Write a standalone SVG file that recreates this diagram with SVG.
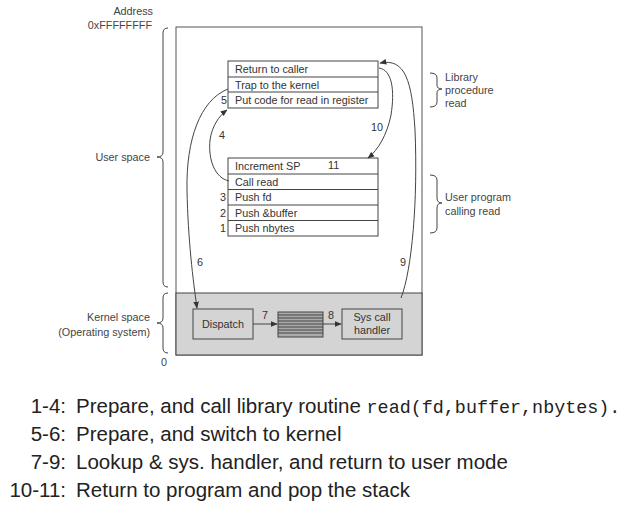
<svg xmlns="http://www.w3.org/2000/svg" width="625" height="526" viewBox="0 0 625 526">
<defs>
<marker id="ah" viewBox="0 0 10 10" refX="9" refY="5" markerWidth="7" markerHeight="7" orient="auto" markerUnits="userSpaceOnUse">
<path d="M0,1 L10,5 L0,9 z" fill="#333"/>
</marker>
<style>
.box{fill:#fff;stroke:#444;stroke-width:1}
.kbox{fill:#d4d4d4;stroke:#444;stroke-width:1}
.t{font-family:"Liberation Sans",Arial,sans-serif;font-size:10.8px;fill:#333}
.s{font-family:"Liberation Sans",Arial,sans-serif;font-size:10.8px;fill:#444}
.r{text-anchor:end}
.m{text-anchor:middle}
.c{fill:none;stroke:#444;stroke-width:1}
.br{fill:none;stroke:#444;stroke-width:1}
.big{font-family:"Liberation Sans",Arial,sans-serif;font-size:20.5px;fill:#222}
.mono{font-family:"Liberation Mono","Courier New",monospace;font-size:18.4px;fill:#222}
</style>
</defs>
<rect width="625" height="526" fill="#fff"/>

<g id="memory">
<rect x="176" y="27" width="246" height="328" fill="#fff" stroke="#555"/>
<rect x="176" y="293" width="246" height="62" class="kbox"/>
</g>

<g id="labels-left">
<text class="s r" x="153" y="15">Address</text>
<text class="s r" x="152" y="29">0xFFFFFFFF</text>
<path class="br" d="M168,28 Q163,28 163,33 L163,152 Q163,157 157,157 Q163,157 163,162 L163,282 Q163,287 168,287"/>
<text class="s r" x="150" y="161">User space</text>
<path class="br" d="M168,293 Q163,293 163,298 L163,318 Q163,323 157,323 Q163,323 163,328 L163,348 Q163,353 168,353"/>
<text class="s r" x="150" y="321">Kernel space</text>
<text class="s r" x="150" y="336">(Operating system)</text>
<text class="s" x="161" y="366">0</text>
</g>

<g id="library">
<rect x="228" y="61" width="150" height="47" class="box"/>
<line x1="228" y1="77" x2="378" y2="77" stroke="#444"/>
<line x1="228" y1="92" x2="378" y2="92" stroke="#444"/>
<text class="t" x="235" y="73">Return to caller</text>
<text class="t" x="235" y="89">Trap to the kernel</text>
<text class="t" x="235" y="104">Put code for read in register</text>
<text class="t" x="221" y="104">5</text>
</g>

<g id="userprog">
<rect x="228" y="158" width="150" height="78" class="box"/>
<line x1="228" y1="174" x2="378" y2="174" stroke="#444"/>
<line x1="228" y1="189.5" x2="378" y2="189.5" stroke="#444"/>
<line x1="228" y1="205" x2="378" y2="205" stroke="#444"/>
<line x1="228" y1="220.5" x2="378" y2="220.5" stroke="#444"/>
<text class="t" x="235" y="170">Increment SP</text>
<text class="t" x="328" y="169">11</text>
<text class="t" x="235" y="186">Call read</text>
<text class="t" x="235" y="201">Push fd</text>
<text class="t" x="235" y="217">Push &amp;buffer</text>
<text class="t" x="235" y="232">Push nbytes</text>
<text class="t" x="220" y="201">3</text>
<text class="t" x="220" y="217">2</text>
<text class="t" x="220" y="232">1</text>
</g>

<g id="labels-right">
<path class="br" d="M430,73 Q437,73 437,78 L437,85 Q437,89 442,89 Q437,89 437,93 L437,102 Q437,107 430,107"/>
<text class="s" x="445" y="81">Library</text>
<text class="s" x="445" y="94">procedure</text>
<text class="s" x="445" y="107">read</text>
<path class="br" d="M430,175 Q437,175 437,180 L437,198 Q437,203 442,203 Q437,203 437,208 L437,228 Q437,233 430,233"/>
<text class="s" x="445" y="201">User program</text>
<text class="s" x="445" y="215">calling read</text>
</g>

<g id="dispatch">
<rect x="193" y="309" width="60" height="30" class="kbox"/>
<text class="t m" x="223" y="328">Dispatch</text>
</g>

<g id="table">
<rect x="278" y="312" width="45" height="25" fill="#aaa" stroke="#444"/>
<g stroke="#444" stroke-width="1">
<line x1="278" y1="315" x2="323" y2="315"/>
<line x1="278" y1="318" x2="323" y2="318"/>
<line x1="278" y1="321" x2="323" y2="321"/>
<line x1="278" y1="324" x2="323" y2="324"/>
<line x1="278" y1="327" x2="323" y2="327"/>
<line x1="278" y1="330" x2="323" y2="330"/>
<line x1="278" y1="333" x2="323" y2="333"/>
</g>
</g>

<g id="syscall">
<rect x="342" y="309" width="60" height="30" class="kbox"/>
<text class="t m" x="372" y="321">Sys call</text>
<text class="t m" x="372" y="334">handler</text>
</g>

<g id="connectors">
<path class="c" d="M253,324 L277,324" marker-end="url(#ah)"/>
<path class="c" d="M323,324 L341,324" marker-end="url(#ah)"/>
<path class="c" d="M229,181 C215,178 208,160 210,140 C212,126 219,116 227,110" marker-end="url(#ah)"/>
<path class="c" d="M228,89 C200,100 186,140 187,190 C188,240 193,280 197,308" marker-end="url(#ah)"/>
<path class="c" d="M401,298 C412,270 418,200 415,130 C412,80 405,58 380,63" marker-end="url(#ah)"/>
<path class="c" d="M379,68 C392,70 395,90 391,115 C387,135 378,150 368,158" marker-end="url(#ah)"/>
<text class="t" x="262" y="319">7</text>
<text class="t" x="328" y="319">8</text>
<text class="t" x="219" y="139">4</text>
<text class="t" x="197" y="266">6</text>
<text class="t" x="400" y="266">9</text>
<text class="t" x="371" y="131">10</text>
</g>

<g id="legend">
<text class="big r" x="66" y="413">1-4:</text>
<text class="big" x="76" y="413">Prepare, and call library routine <tspan class="mono">read(fd,buffer,nbytes).</tspan></text>
<text class="big r" x="66" y="441">5-6:</text>
<text class="big" x="76" y="441">Prepare, and switch to kernel</text>
<text class="big r" x="66" y="469">7-9:</text>
<text class="big" x="76" y="469">Lookup &amp; sys. handler, and return to user mode</text>
<text class="big r" x="66" y="497">10-11:</text>
<text class="big" x="76" y="497">Return to program and pop the stack</text>
</g>
</svg>
